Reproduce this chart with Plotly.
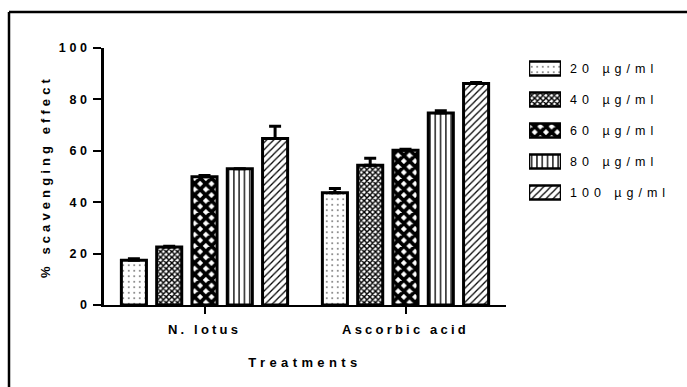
import plotly.graph_objects as go

# Treatment groups and concentration series
treatments = ["N. lotus", "Ascorbic acid"]
concentrations = ["20 \u00b5g/ml", "40 \u00b5g/ml", "60 \u00b5g/ml", "80 \u00b5g/ml", "100 \u00b5g/ml"]

# % scavenging effect (mean) for each concentration, per treatment
scav_20 = [17.4, 43.7]
scav_40 = [22.6, 54.4]
scav_60 = [49.9, 60.2]
scav_80 = [53.0, 74.7]
scav_100 = [64.8, 86.2]

# upper error (SEM) for each concentration, per treatment
err_20 = [0.6, 1.6]
err_40 = [0.3, 2.7]
err_60 = [0.5, 0.4]
err_80 = [0.0, 0.9]
err_100 = [4.8, 0.4]

y_ticks = [0, 20, 40, 60, 80, 100]

means = [scav_20, scav_40, scav_60, scav_80, scav_100]
errors = [err_20, err_40, err_60, err_80, err_100]

# black-and-white fill patterns, one per concentration
patterns = [
    dict(shape=".", size=5.5, solidity=0.06),
    dict(shape="x", size=4, solidity=0.6),
    dict(shape="x", size=8, solidity=0.72),
    dict(shape="|", size=5.3, solidity=0.25),
    dict(shape="/", size=5, solidity=0.25),
]

FONT = "Liberation Sans, Arial, sans-serif"

fig = go.Figure()

for name, m, e, p in zip(concentrations, means, errors, patterns):
    fig.add_trace(go.Bar(
        x=treatments, y=m, name=name, showlegend=False,
        marker=dict(color="white",
                    line=dict(color="black", width=3),
                    pattern=dict(shape=p["shape"], size=p["size"], solidity=p["solidity"],
                                 fgcolor="black", bgcolor="white", fillmode="replace")),
        error_y=dict(type="data", symmetric=False, array=e, arrayminus=[0] * len(e),
                     color="black", thickness=3, width=6),
        xaxis="x", yaxis="y",
    ))

# key: one swatch per concentration on its own small axes
fig.add_trace(go.Bar(
    y=concentrations, x=[1] * len(concentrations), orientation="h",
    width=0.45, showlegend=False, hoverinfo="skip",
    marker=dict(color="white",
                line=dict(color="black", width=2.5),
                pattern=dict(shape=[p["shape"] for p in patterns],
                             size=[p["size"] for p in patterns],
                             solidity=[p["solidity"] for p in patterns],
                             fgcolor="black", bgcolor="white", fillmode="replace")),
    xaxis="x2", yaxis="y2",
))

W, H = 687, 387
ML, MR, MT, MB = 104, 20, 48, 82
PW = W - ML - MR
PH = H - MT - MB

# outer frame: top and left edges, kept inside the page
fx = (9 - ML) / PW
fy = 1 - (12 - MT) / PH
frame = [
    dict(type="line", xref="paper", yref="paper", x0=fx, x1=(W - ML) / PW, y0=fy, y1=fy,
         line=dict(color="black", width=2.5), layer="below"),
    dict(type="line", xref="paper", yref="paper", x0=fx, x1=fx, y0=fy, y1=1 - (H - MT) / PH,
         line=dict(color="black", width=2.5), layer="below"),
]

fig.update_layout(
    width=W, height=H,
    margin=dict(l=ML, r=MR, t=MT, b=MB, pad=0),
    paper_bgcolor="white", plot_bgcolor="white",
    barmode="group", bargap=0.122, bargroupgap=0.29,
    font=dict(family=FONT, color="black"),
    xaxis=dict(
        domain=[0, 402 / PW], range=[-0.5, 1.5],
        showline=True, linecolor="black", linewidth=2,
        ticks="outside", ticklen=7, tickwidth=2, tickcolor="black",
        ticklabelstandoff=4,
        tickfont=dict(size=13, weight="bold"),
        showgrid=False, zeroline=False,
        title=dict(text="Treatments", font=dict(size=13, weight="bold"), standoff=22),
    ),
    yaxis=dict(
        domain=[0, 1], range=[0, 100], tickvals=y_ticks,
        showline=True, linecolor="black", linewidth=3,
        ticks="outside", ticklen=8, tickwidth=2, tickcolor="black",
        tickfont=dict(size=12.5, weight="bold"),
        showgrid=False, zeroline=False,
        title=dict(text="% scavenging effect", font=dict(size=13, weight="bold"), standoff=17),
    ),
    xaxis2=dict(domain=[(529 - ML) / PW, (561 - ML) / PW], range=[0, 1], visible=False,
                anchor="y2"),
    yaxis2=dict(domain=[1 - (208 - MT) / PH, 1 - (53 - MT) / PH], anchor="x2",
                range=[4.5, -0.5], side="right", showline=False, showgrid=False,
                zeroline=False, ticks="", ticklabelstandoff=8,
                tickfont=dict(size=12.5, color="black")),
    shapes=frame,
)

# wide letter spacing for the labels
spacing_js = """
var gd = document.getElementById('{plot_id}');
function sp(sel, v) {
  gd.querySelectorAll(sel).forEach(function (t) { t.style.letterSpacing = v; });
}
sp('.xtick text', '3.2px');
sp('.ytick text', '3.6px');
sp('.y2tick text', '5px');
sp('.xtitle', '4.4px');
sp('.ytitle', '4.1px');
"""

fig.write_html("out.html", post_script=spacing_js)
